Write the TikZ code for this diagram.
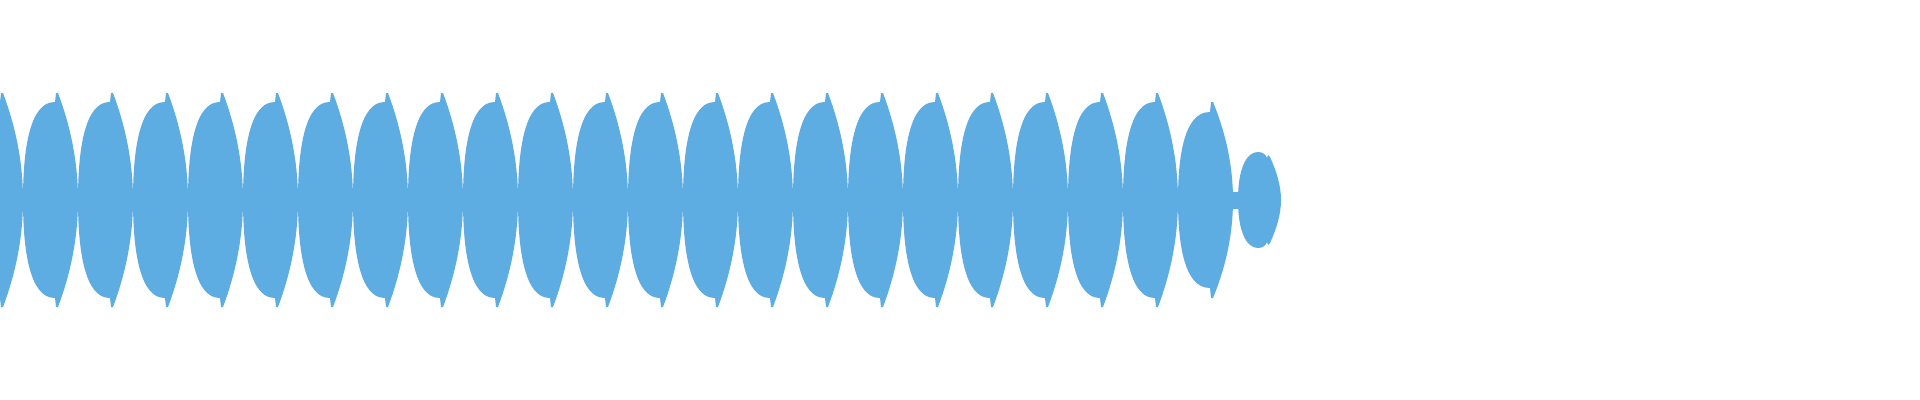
\documentclass[tikz,border=0pt]{standalone}
\definecolor{wave}{HTML}{5DACE2}
\begin{document}
\begin{tikzpicture}[x=0.01cm,y=-0.01cm]
\useasboundingbox (0,0) rectangle (1920,400);
\clip (0,0) rectangle (1920,400);
\newcommand{\lobe}[3]{% peak x, half height H, shoulder
 \fill[wave] ({#1-34},200) .. controls ({#1-34},{200-0.9*#3}) and ({#1-14},{200-#3}) .. ({#1-2},{200-#3}) -- ({#1-1},{200-#2}) -- ({#1+1},{200-#2})
  .. controls ({#1+9},{200-0.8*#2}) and ({#1+21},{200-0.45*#2}) .. ({#1+21},200)
  .. controls ({#1+21},{200+0.45*#2}) and ({#1+9},{200+0.8*#2}) .. ({#1+1},{200+#2}) -- ({#1-1},{200+#2}) -- ({#1-2},{200+#3})
  .. controls ({#1-14},{200+#3}) and ({#1-34},{200+0.9*#3}) .. ({#1-34},200) -- cycle;}
\fill[wave] (0,192) rectangle (1240,209);
\foreach \k in {0,...,21}{ \lobe{2+55*\k}{107}{98} }
\lobe{1212}{98}{88}
\fill[wave] (1238,200) .. controls (1238,165) and (1248,152) .. (1258,152) .. controls (1263,152) and (1266,155) .. (1267,158) -- (1268,155) -- (1270,157)
  .. controls (1276,170) and (1281,185) .. (1281,200)
  .. controls (1281,215) and (1276,230) .. (1270,243) -- (1268,245) -- (1267,242) .. controls (1266,245) and (1263,248) .. (1258,248)
  .. controls (1248,248) and (1238,235) .. (1238,200) -- cycle;
\end{tikzpicture}
\end{document}
